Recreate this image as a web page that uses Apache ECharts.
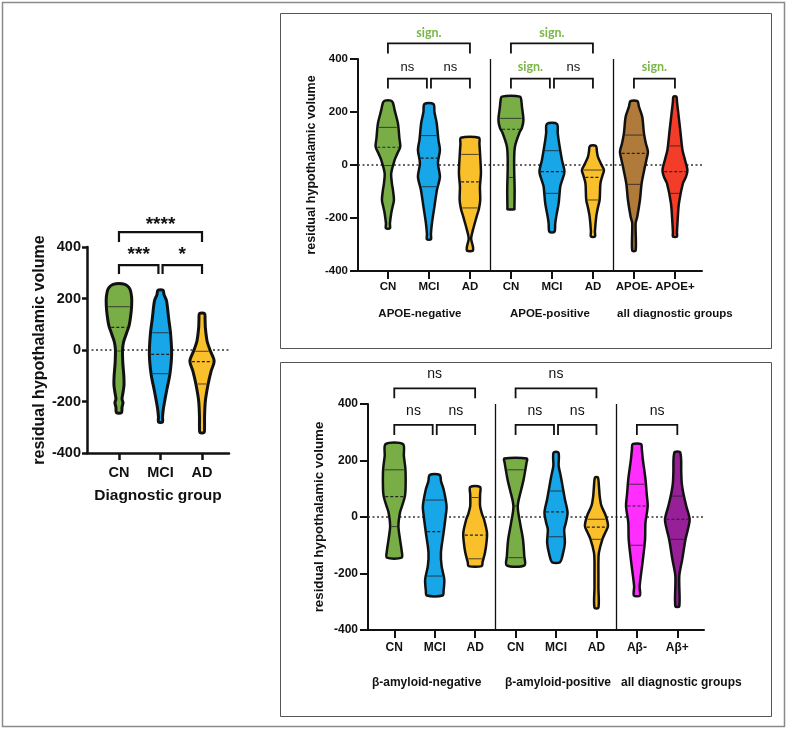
<!DOCTYPE html>
<html><head><meta charset="utf-8">
<script src="https://cdn.jsdelivr.net/npm/echarts@6/dist/echarts.min.js"></script>
<style>html,body{margin:0;padding:0;background:#fff}#c{width:787px;height:729px}</style>
</head><body><div id="c"></div>
<script>
// ---------------- DATA ----------------
const yTicks = [-400, -200, 0, 200, 400];
const leftCats = ['CN', 'MCI', 'AD'];
const topCats = ['CN', 'MCI', 'AD', 'CN', 'MCI', 'AD', 'APOE-', 'APOE+'];
const topGroups = ['APOE-negative', 'APOE-positive', 'all diagnostic groups'];
const botCats = ['CN', 'MCI', 'AD', 'CN', 'MCI', 'AD', 'Aβ-', 'Aβ+'];
const botGroups = ['β-amyloid-negative', 'β-amyloid-positive', 'all diagnostic groups'];

// violin profiles: [value, density (half width)]
const L_CN  = [[257,3],[250,8],[235,11],[205,12.5],[170,12.5],[130,11.5],[95,10],[60,7],[30,4.5],[0,3.5],[-50,3.8],[-100,4.8],[-135,5],[-165,4],[-190,3],[-205,4],[-222,3],[-243,2.5]];
const L_MCI = [[232,2.5],[215,3.5],[190,6],[125,8],[62,10],[-16,11],[-93,9.3],[-159,6],[-224,3],[-260,2],[-280,2]];
const L_AD  = [[141,2.5],[120,3],[87,3.3],[35,5],[-4,8.3],[-43,12],[-82,9],[-133,6],[-198,3.3],[-260,2.5],[-300,2.5],[-320,2]];
const L_Q = [[168,88,-4],[67,-17,-92],[-5,-45,-132]];

const T_CN_neg  = [[243,3],[235,5],[207,6.7],[157,10],[100,11.5],[69,12.3],[40,9],[19,6.7],[-31,3.3],[-70,4],[-94,5],[-132,6],[-160,4.5],[-182,3.3],[-220,2],[-239,2]];
const T_MCI_neg = [[230,4.5],[200,5.5],[157,7.8],[94,9.5],[57,11],[7,9],[-44,11],[-94,8],[-157,5.5],[-220,3],[-260,2],[-280,2]];
const T_AD_neg  = [[103,9],[80,9.5],[31,10.3],[-31,11],[-82,10],[-132,10.3],[-165,9],[-195,6.7],[-245,3],[-277,1.2],[-300,2.5],[-308,3],[-323,3]];
const T_CN_pos  = [[258,9],[240,10.5],[220,11],[170,12.5],[140,11],[120,8.3],[69,4],[6,3.2],[-94,3.7],[-164,3.5],[-167,3.5]];
const T_MCI_pos = [[155,5],[120,5.8],[94,6.7],[19,10],[-25,12.5],[-60,10],[-82,8.3],[-145,6.7],[-190,4.5],[-220,3.3],[-252,2.5]];
const T_AD_pos  = [[72,3],[50,4],[31,5],[5,8],[-19,11],[-40,9.5],[-69,7.5],[-132,6.7],[-160,5],[-195,3.3],[-250,2],[-270,2]];
const T_APOEneg = [[241,3.5],[220,5],[182,8.3],[120,10],[80,12],[50,14],[20,12.5],[-6,11],[-69,7.7],[-132,6],[-195,3.3],[-220,1.7],[-323,1.7]];
const T_APOEpos = [[258,1.5],[240,2],[207,3],[132,5.3],[57,7.5],[20,10],[-19,12.5],[-45,11],[-69,8],[-145,4],[-220,2.5],[-255,2],[-270,2]];
const T_Q = [[142,67,-2],[111,26,-82],[40,-64,-162],[176,135,-47],[54,-25,-107],[-19,-47,-132],[113,44,-73],[72,-25,-107]];

const B_CN_neg  = [[258,8.8],[216,9.7],[169,11.3],[110,11.5],[74,10.8],[40,8],[16,5.8],[-32,4.2],[-79,5.8],[-120,7.5],[-144,7.5]];
const B_MCI_neg = [[149,5],[125,6.5],[98,9],[39,12],[0,11],[-55,9],[-126,6.3],[-174,7],[-221,9.7],[-260,9],[-278,8]];
const B_AD_neg  = [[106,5],[80,5],[39,5],[10,7],[-8,9],[-55,12],[-90,11.5],[-126,10],[-160,7.5],[-174,6.7]];
const B_CN_pos  = [[207,11.3],[190,11],[169,10],[130,8],[98,5.8],[39,2.2],[-20,4.5],[-79,7.5],[-138,8.8],[-171,9]];
const B_MCI_pos = [[228,2.5],[181,2.7],[150,4.5],[122,6],[63,9],[16,11.7],[-20,10],[-44,8.3],[-91,9],[-130,7],[-160,4]];
const B_AD_pos  = [[140,1.5],[110,2.5],[74,3.3],[40,5],[4,9.5],[-32,11.7],[-55,9],[-79,6],[-126,2.5],[-160,2],[-197,2],[-250,2],[-321,2]];
const B_Aneg    = [[258,4.3],[240,5],[205,6],[134,8.7],[80,10],[39,11],[-20,8.7],[-79,8.3],[-162,5.7],[-245,2.8],[-278,3]];
const B_Apos    = [[228,3],[157,4],[120,4.5],[86,6],[40,9],[-8,12.5],[-40,11],[-79,8.3],[-150,5],[-209,2],[-316,2]];
const B_Q = [[167,72,-34],[60,-52,-209],[69,-64,-148],[167,39,-144],[92,18,-70],[-8,-36,-79],[116,39,-100],[74,-8,-79]];

// significance comparisons: [from category, to category, level(0 small / 1 big)]
const leftBrackets = [[0,0.95,0],[1.05,2,0],[0,2,1]];
const leftLabels = ['***', '*', '****'];
const topBrackets = [[0,0.95,0],[1.05,2,0],[0,2,1],[3,3.95,0],[4.05,5,0],[3,5,1],[6,7,0]];
const topLabels = ['ns','ns','sign.','sign.','ns','sign.','sign.'];
const botBrackets = [[0,0.95,0],[1.05,2,0],[0,2,1],[3,3.95,0],[4.05,5,0],[3,5,1],[6,7,0]];
const botLabels = ['ns','ns','ns','ns','ns','ns','ns'];

// ---------------- STYLE / LAYOUT ----------------
const C = {green:'#79ae47', blue:'#17a6e7', yellow:'#f9c02b', brown:'#b07a3a', red:'#f33d29', magenta:'#ff2eff', purple:'#971f98'};
const leftColors = [C.green, C.blue, C.yellow];
const topColors = [C.green, C.blue, C.yellow, C.green, C.blue, C.yellow, C.brown, C.red];
const botColors = [C.green, C.blue, C.yellow, C.green, C.blue, C.yellow, C.magenta, C.purple];
const W = 41;
const FONT = '"Liberation Sans", Arial, sans-serif';

function widthAt(prof, v) {
  for (let k = 0; k < prof.length - 1; k++) {
    const a = prof[k], b = prof[k + 1];
    if (v <= a[0] && v >= b[0]) { const t = (a[0] - v) / (a[0] - b[0]); return a[1] + t * (b[1] - a[1]); }
  }
  return 0;
}
function makeViolin(profiles, quarts, colors, lw) {
  return function (params, api) {
    const i = params.dataIndex, x = api.value(0), prof = profiles[i];
    const pts = [];
    prof.forEach(p => pts.push(api.coord([x - p[1] / W, p[0]])));
    for (let k = prof.length - 1; k >= 0; k--) pts.push(api.coord([x + prof[k][1] / W, prof[k][0]]));
    const children = [{type:'polygon', shape:{points:pts, smooth:0.3}, style:{fill:colors[i], stroke:'#111', lineWidth:lw}}];
    quarts[i].forEach((q, k) => {
      const d = Math.max(widthAt(prof, q) - lw * 0.6, 0.5);
      const a = api.coord([x - d / W, q]), b = api.coord([x + d / W, q]);
      children.push({type:'line', shape:{x1:a[0], y1:a[1], x2:b[0], y2:b[1]},
        style:{stroke:'#222', lineWidth: k === 1 ? 1.2 : 0.8, lineDash: k === 1 ? [3, 2] : null}});
    });
    return {type:'group', children};
  };
}
function labelStyle(s, nsSize) {
  if (s === 'sign.') return {font:'bold 12.5px Lato, sans-serif', fill:'#7ab648'};
  if (s[0] === '*') return {font:'bold 19px ' + FONT, fill:'#111'};
  return {font: nsSize + 'px ' + FONT, fill:'#111'};
}
function makeBrackets(list, labels, lv, lw, nsSize) {
  return function (params, api) {
    const i = params.dataIndex, b = list[i], L = lv[b[2]];
    const p1 = api.coord([b[0], L[1]]), p2 = api.coord([b[0], L[0]]), p3 = api.coord([b[1], L[0]]), p4 = api.coord([b[1], L[1]]);
    const t = api.coord([(b[0] + b[1]) / 2, L[2]]);
    const st = labelStyle(labels[i], nsSize);
    return {type:'group', children:[
      {type:'polyline', shape:{points:[p1, p2, p3, p4]}, style:{stroke:'#111', lineWidth:lw, fill:null}},
      {type:'text', style:Object.assign({text:labels[i], x:t[0], y:t[1], align:'center', verticalAlign:'middle'}, st)}
    ]};
  };
}
// levels: [top, leg end, text]
const leftLv = [[330, 295, 368], [458, 419, 485]];
const topLv = [[326, 289, 369], [459, 421, 497]];
const botLv = [[326, 290, 374], [455, 420, 504]];

function xAxisMain(grid, min, max, cats, margin, fs, lw, tl) {
  const vals = cats.map((c, i) => i);
  return {type:'value', gridIndex:grid, min, max, position:'bottom',
    axisLine:{show:true, onZero:false, lineStyle:{color:'#111', width:lw}},
    axisTick:{show:true, customValues:vals, length:tl, lineStyle:{color:'#111', width:lw}},
    axisLabel:{show:true, customValues:vals, margin, formatter:v => cats[Math.round(v)], color:'#111', fontWeight:'bold', fontSize:fs, fontFamily:FONT},
    splitLine:{show:false}};
}
function xAxisGroup(grid, min, max, groups, pos, margin, fs) {
  return {type:'value', gridIndex:grid, min, max, position:'bottom',
    axisLine:{show:false}, axisTick:{show:false}, splitLine:{show:false},
    axisLabel:{show:true, customValues:pos, margin, formatter:v => groups[pos.indexOf(v)], color:'#111', fontWeight:'bold', fontSize:fs, fontFamily:FONT}};
}
function yAxis(grid, name, nameGap, nfs, fs, margin, lw, tl) {
  return {type:'value', gridIndex:grid, min:yTicks[0], max:yTicks[yTicks.length - 1], interval:200,
    name, nameLocation:'middle', nameGap, nameTextStyle:{color:'#111', fontWeight:'bold', fontSize:nfs, fontFamily:FONT},
    axisLine:{show:true, onZero:false, lineStyle:{color:'#111', width:lw}},
    axisTick:{show:true, customValues:yTicks, length:tl, lineStyle:{color:'#111', width:lw}},
    axisLabel:{customValues:yTicks, showMinLabel:true, showMaxLabel:true, margin, color:'#111', fontWeight:'bold', fontSize:fs, fontFamily:FONT},
    splitLine:{show:false}};
}
function refLines(xi, yi, seps) {
  const data = [{yAxis:0, lineStyle:{type:[2, 2.5], color:'#333', width:1.5}}];
  seps.forEach(s => data.push([{coord:[s, -400], lineStyle:{type:'solid', color:'#111', width:1.3}}, {coord:[s, 400]}]));
  return {type:'line', xAxisIndex:xi, yAxisIndex:yi, data:[], z:1, silent:true,
    markLine:{silent:true, symbol:['none', 'none'], label:{show:false}, animation:false, data}};
}
const idx = a => a.map((c, i) => [i, 0]);
const mid = a => a.map(b => [(b[0] + b[1]) / 2, 0]);

const topProfiles = [T_CN_neg, T_MCI_neg, T_AD_neg, T_CN_pos, T_MCI_pos, T_AD_pos, T_APOEneg, T_APOEpos];
const botProfiles = [B_CN_neg, B_MCI_neg, B_AD_neg, B_CN_pos, B_MCI_pos, B_AD_pos, B_Aneg, B_Apos];

const option = {
  backgroundColor:'#fff',
  animation:false,
  graphic:[
    {type:'rect', shape:{x:2.5, y:2.5, width:782, height:724}, style:{fill:null, stroke:'#8a8a8a', lineWidth:1.5}, silent:true},
    {type:'rect', shape:{x:280.5, y:13.5, width:491, height:335}, style:{fill:null, stroke:'#555', lineWidth:1}, silent:true},
    {type:'rect', shape:{x:280.5, y:362.5, width:491, height:354}, style:{fill:null, stroke:'#555', lineWidth:1}, silent:true}
  ],
  grid:[
    {left:87, top:247, width:142, height:206, containLabel:false, outerBoundsMode:'none'},
    {left:358, top:59, width:344, height:212, containLabel:false, outerBoundsMode:'none'},
    {left:368, top:404, width:336, height:226, containLabel:false, outerBoundsMode:'none'}
  ],
  xAxis:[
    Object.assign(xAxisMain(0, -0.77, 2.65, leftCats, 12, 14.5, 2.5, 7),
      {name:'Diagnostic group', nameLocation:'middle', nameGap:35, nameTextStyle:{color:'#111', fontWeight:'bold', fontSize:15.5, fontFamily:FONT}}),
    xAxisMain(1, -0.73, 7.66, topCats, 10, 11.5, 2, 8),
    xAxisGroup(1, -0.73, 7.66, topGroups, [0.78, 3.95, 7], 37, 11.5),
    xAxisMain(2, -0.65, 7.66, botCats, 12, 12, 2, 8),
    xAxisGroup(2, -0.65, 7.66, botGroups, [0.8, 4.05, 7.1], 47, 12)
  ],
  yAxis:[
    yAxis(0, 'residual hypothalamic volume', 39, 16, 14.5, 6, 2.5, 5),
    yAxis(1, 'residual hypothalamic volume', 40, 12.5, 11.5, 10, 2, 8),
    yAxis(2, 'residual hypothalamic volume', 42, 13.3, 12, 10, 2, 8)
  ],
  series:[
    refLines(0, 0, []),
    {type:'custom', xAxisIndex:0, yAxisIndex:0, z:5, clip:false, data:idx(leftCats), renderItem:makeViolin([L_CN, L_MCI, L_AD], L_Q, leftColors, 3)},
    {type:'custom', xAxisIndex:0, yAxisIndex:0, z:5, clip:false, data:mid(leftBrackets), renderItem:makeBrackets(leftBrackets, leftLabels, leftLv, 2.2, 13)},
    refLines(1, 1, [2.5, 5.5]),
    {type:'custom', xAxisIndex:1, yAxisIndex:1, z:5, clip:false, data:idx(topCats), renderItem:makeViolin(topProfiles, T_Q, topColors, 2.5)},
    {type:'custom', xAxisIndex:1, yAxisIndex:1, z:5, clip:false, data:mid(topBrackets), renderItem:makeBrackets(topBrackets, topLabels, topLv, 1.8, 13)},
    refLines(3, 2, [2.5, 5.5]),
    {type:'custom', xAxisIndex:3, yAxisIndex:2, z:5, clip:false, data:idx(botCats), renderItem:makeViolin(botProfiles, B_Q, botColors, 2.5)},
    {type:'custom', xAxisIndex:3, yAxisIndex:2, z:5, clip:false, data:mid(botBrackets), renderItem:makeBrackets(botBrackets, botLabels, botLv, 1.8, 14)}
  ]
};
const chart = echarts.init(document.getElementById('c'), null, {renderer:'canvas'});
chart.setOption(option);
</script></body></html>
